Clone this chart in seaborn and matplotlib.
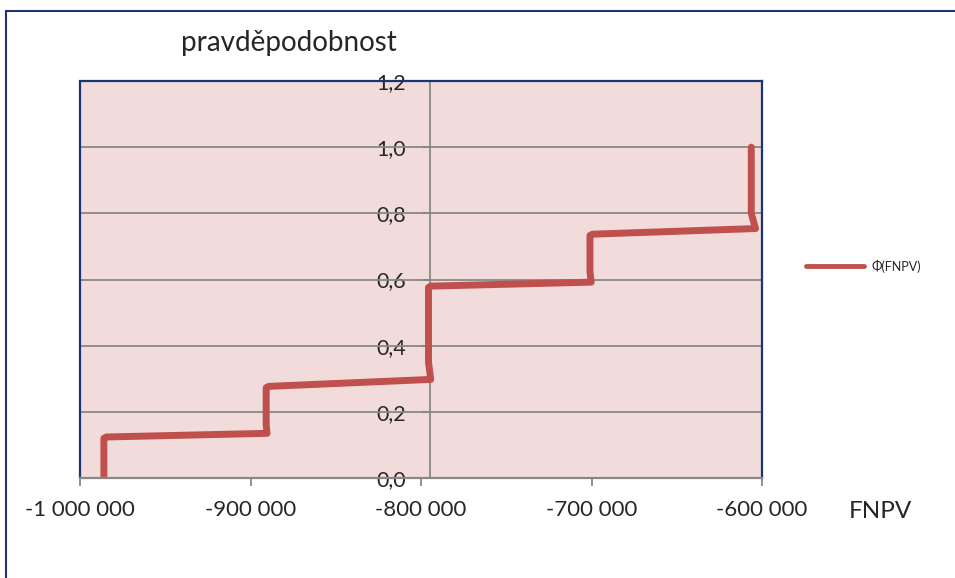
import numpy as np
import pandas as pd
import matplotlib
matplotlib.use("Agg")
import matplotlib.pyplot as plt
from matplotlib.patches import Rectangle
import seaborn as sns

# CDF of FNPV (Excel smoothed step line)
fnpv = [-986000, -986000, -984500, -890300, -890800, -890800, -889200,
        -794300, -795600, -795600, -794200, -700200, -700900, -700900,
        -699300, -603800, -606300, -606300]
prob = [0.0, 0.12, 0.124, 0.135, 0.16, 0.273, 0.277,
        0.298, 0.35, 0.576, 0.580, 0.592, 0.625, 0.733,
        0.737, 0.754, 0.80, 1.0]

x_ticks = [-1000000, -900000, -800000, -700000, -600000]
x_labels = ["-1 000 000", "-900 000", "-800 000", "-700 000", "-600 000"]
y_ticks = [0.0, 0.2, 0.4, 0.6, 0.8, 1.0, 1.2]
y_labels = ["0,0", "0,2", "0,4", "0,6", "0,8", "1,0", "1,2"]
y_axis_at = -795000

df = pd.DataFrame({"FNPV": fnpv, "p": prob})

sns.set_style("white")
plt.rcParams['font.family'] = ['Lato', 'DejaVu Sans']

navy = "#1B3572"
gray = "#878787"
red = "#C0504D"

fig = plt.figure(figsize=(9.55, 5.78), dpi=100)
ax = fig.add_axes([80/955, 1-478/578, 682/955, 397/578])
ax.set_facecolor("#F2DCDB")

for yv in y_ticks[1:-1]:
    ax.axhline(yv, color=gray, lw=1.3, zorder=1)

# estimator=None so repeated x values are not averaged
sns.lineplot(data=df, x="FNPV", y="p", sort=False, estimator=None,
             color=red, lw=5, solid_joinstyle="round", solid_capstyle="round",
             label="Φ(FNPV)", ax=ax, zorder=3)

ax.set_xlim(-1000000, -600000)
ax.set_ylim(0, 1.2)
ax.set_xticks(x_ticks)
ax.set_xticklabels(x_labels)
ax.set_yticks(y_ticks)
ax.set_yticklabels(y_labels)
ax.set_xlabel("")
ax.set_ylabel("")

ax.spines['left'].set_position(('data', y_axis_at))
ax.spines['left'].set_color(gray)
ax.spines['left'].set_linewidth(1.3)
ax.spines['bottom'].set_color(gray)
ax.spines['bottom'].set_linewidth(1.6)
ax.spines['bottom'].set_zorder(4)
for s in ['top', 'right']:
    ax.spines[s].set_color(navy)
    ax.spines[s].set_linewidth(1.6)
ax.plot([0, 0], [0, 1], transform=ax.transAxes, color=navy, lw=1.6,
        clip_on=False, zorder=2)

ax.tick_params(axis='x', direction='out', length=6, width=1.3, color=gray,
               pad=10, bottom=True, labelsize=16)
ax.tick_params(axis='y', direction='out', length=6, width=1.3, color=gray,
               pad=11, left=True, labelsize=15.5)
for lab in ax.get_yticklabels():
    lab.set_verticalalignment('center_baseline')

leg = ax.legend(loc='center left', bbox_to_anchor=(806/955, 1-266/578),
                bbox_transform=fig.transFigure, frameon=False, fontsize=9,
                handlelength=4.6, handletextpad=0.6, borderpad=0, borderaxespad=0)
for h in leg.get_lines():
    h.set_linewidth(3.5)

fig.text(289/955, 1-43/578, "pravděpodobnost", fontsize=20, ha='center', va='center')
fig.text(880/955, 1-512/578, "FNPV", fontsize=17.5, ha='center', va='center')

fig.patches.append(Rectangle((6/955, -0.1), 1.1, 1-11/578+0.1, transform=fig.transFigure,
                             fill=False, edgecolor=navy, lw=1.5))

fig.savefig("out.png", dpi=100)
